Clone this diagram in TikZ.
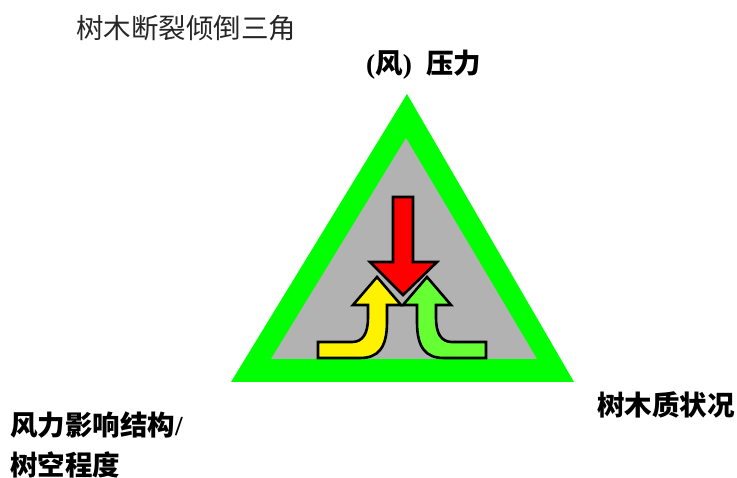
\documentclass[tikz,border=0pt]{standalone}
\usepackage{fontspec}
\newfontfamily\cjk{Noto Sans CJK SC}
\newfontfamily\serif{Liberation Serif}
\definecolor{tgreen}{HTML}{00FF00}
\definecolor{tgray}{HTML}{B2B2B2}
\definecolor{agreen}{HTML}{66FF33}
\begin{document}
\begin{tikzpicture}[x=1pt,y=-1pt,
  lbl/.style={anchor=west,inner sep=0pt,font=\cjk\bfseries\fontsize{27.5}{32}\selectfont},
  arrowshape/.style={draw=black,line width=2.6pt,line join=miter}]
\useasboundingbox (0,0) rectangle (737,478);
% triangles
\fill[tgreen] (407,94) -- (574,382) -- (231,382) -- cycle;
\fill[tgray] (406,138) -- (537,359) -- (271,359) -- cycle;
% red arrow
\draw[arrowshape,fill=red] (393,197) -- (413,197) -- (413,262) -- (437,262) -- (403,295) -- (370,262) -- (393,262) -- cycle;
% yellow arrow
\draw[arrowshape,fill=yellow] (377,277) -- (401,305) -- (387,305) -- (387,322)
  .. controls (387,348) and (378,358) .. (360,358) -- (318,358) -- (318,342) -- (352,342)
  .. controls (363,342) and (368,333) .. (368,318) -- (368,305) -- (353,305) -- cycle;
% green arrow
\draw[arrowshape,fill=agreen] (427,277) -- (403,305) -- (417,305) -- (417,322)
  .. controls (417,348) and (426,358) .. (444,358) -- (486,358) -- (486,342) -- (452,342)
  .. controls (441,342) and (436,333) .. (436,318) -- (436,305) -- (451,305) -- cycle;
% texts
\node[anchor=west,inner sep=0pt,font=\cjk\fontsize{27.5}{32}\selectfont,text=black!85] (title) at (76,28) {树木断裂倾倒三角};
\node[lbl] (wind) at (366,65) {{\serif\bfseries (}风{\serif\bfseries )}\hspace{14pt}压力};
\node[lbl] (wood) at (597,405) {树木质状况};
\node[lbl] (struct) at (10,425) {风力影响结构{\serif\bfseries /}};
\node[lbl] (hollow) at (10,465) {树空程度};
\end{tikzpicture}
\end{document}
